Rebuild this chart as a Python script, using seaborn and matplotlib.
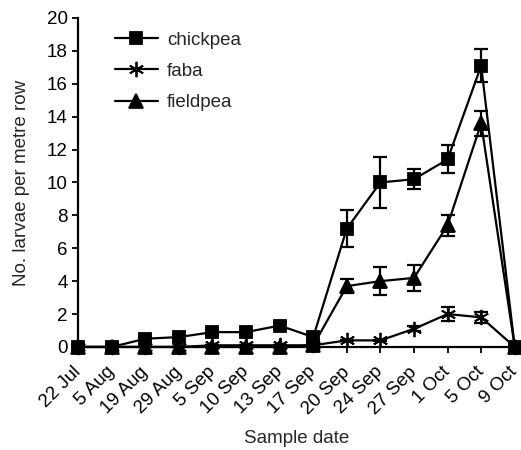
import numpy as np
import pandas as pd
import seaborn as sns
import matplotlib
matplotlib.use("Agg")
import matplotlib.pyplot as plt
import matplotlib.transforms as mtransforms

dates = ["22 Jul", "5 Aug", "19 Aug", "29 Aug", "5 Sep", "10 Sep", "13 Sep",
         "17 Sep", "20 Sep", "24 Sep", "27 Sep", "1 Oct", "5 Oct", "9 Oct"]
chickpea = [0, 0, 0.5, 0.6, 0.9, 0.9, 1.3, 0.6, 7.2, 10.0, 10.2, 11.4, 17.1, 0]
chickpea_err = [0, 0, 0.1, 0.1, 0.15, 0.15, 0.2, 0.2, 1.15, 1.55, 0.6, 0.85, 1.0, 0]
faba = [0, 0, 0, 0, 0.1, 0.1, 0.1, 0.1, 0.4, 0.4, 1.1, 2.0, 1.8, 0]
faba_err = [0, 0, 0, 0, 0, 0, 0, 0, 0.05, 0.05, 0.15, 0.4, 0.35, 0]
fieldpea = [0, 0, 0, 0, 0, 0, 0, 0.1, 3.7, 4.0, 4.2, 7.4, 13.6, 0]
fieldpea_err = [0, 0, 0, 0, 0, 0, 0, 0.05, 0.45, 0.85, 0.8, 0.65, 0.75, 0]

sns.set_style("ticks")
plt.rcParams['font.family'] = ['Liberation Sans', 'DejaVu Sans']

x = np.arange(len(dates))
df = pd.DataFrame({
    "idx": np.tile(x, 3),
    "val": chickpea + faba + fieldpea,
    "crop": ["chickpea"] * len(x) + ["faba"] * len(x) + ["fieldpea"] * len(x),
})

fig = plt.figure(figsize=(5.21, 4.5), dpi=100)
ax = fig.add_axes([0.150, 0.229, 0.838, 0.731])

markers = {"chickpea": "s", "faba": (6, 2, 0), "fieldpea": "^"}
sizes = {"chickpea": 9, "faba": 11, "fieldpea": 10}
errs = {"chickpea": chickpea_err, "faba": faba_err, "fieldpea": fieldpea_err}
vals = {"chickpea": chickpea, "faba": faba, "fieldpea": fieldpea}

for crop in ["chickpea", "faba", "fieldpea"]:
    sub = df[df.crop == crop]
    sns.lineplot(data=sub, x="idx", y="val", ax=ax, color="black", lw=1.6,
                 marker=markers[crop], markersize=sizes[crop],
                 markeredgecolor="black", markerfacecolor="black",
                 markeredgewidth=1.3, label=crop, clip_on=False)
    ax.errorbar(x, vals[crop], yerr=errs[crop], fmt="none", ecolor="black",
                elinewidth=1.6, capsize=5, capthick=1.6, clip_on=False)

ax.set_xlim(0, len(dates) - 1)
ax.set_ylim(0, 20)
ax.set_yticks(np.arange(0, 21, 2))
ax.set_xticks(x)
ax.set_xticklabels(dates, rotation=45, ha="right", rotation_mode="anchor")
ax.tick_params(axis="both", labelsize=13.5, direction="out", length=4, width=1.3, colors="black")
offset = mtransforms.ScaledTranslation(-6 / 100, -6 / 100, fig.dpi_scale_trans)
for lab in ax.get_xticklabels():
    lab.set_transform(lab.get_transform() + offset)
ax.set_xlabel("Sample date", fontsize=13.5, labelpad=9)
ax.set_ylabel("No. larvae per metre row", fontsize=13.5, labelpad=12)
for s in ["top", "right"]:
    ax.spines[s].set_visible(False)
for s in ["left", "bottom"]:
    ax.spines[s].set_linewidth(1.6)
    ax.spines[s].set_color("black")

leg = ax.legend(loc="upper left", bbox_to_anchor=(0.045, 1.01), frameon=False,
                fontsize=13.5, handlelength=2.3, labelspacing=0.75, handletextpad=0.5)

fig.savefig("out.png", dpi=100)
